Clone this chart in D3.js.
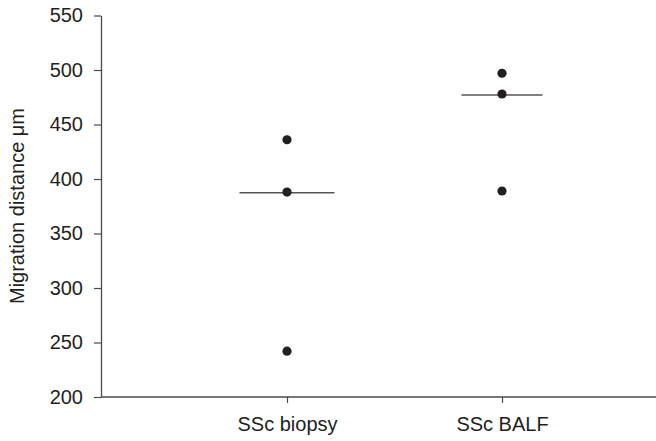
<!DOCTYPE html>
<html>
<head>
<meta charset="utf-8">
<script src="https://cdn.jsdelivr.net/npm/d3@7"></script>
<style>
  html, body { margin: 0; padding: 0; background: #fff; }
  svg { display: block; }
  text { font-family: "Liberation Sans", Arial, Helvetica, sans-serif; fill: #231f20; }
</style>
</head>
<body>
<svg id="chart" width="656" height="441"></svg>
<script>
const categories = ["SSc biopsy", "SSc BALF"];
const biopsyValues = [436, 388, 242];
const balfValues = [497, 478, 389];
const medians = [387.5, 477];
const yTicks = [200, 250, 300, 350, 400, 450, 500, 550];
const yLabel = "Migration distance μm";

const seriesValues = [biopsyValues, balfValues];
const W = 656, H = 441;
const axisX = 101, axisY = 397, topY = 15.5;
const medianHalf = [47.5, 40.5];

const svg = d3.select("#chart");

const y = d3.scaleLinear().domain([200, 550]).range([axisY, topY]);
const x = d3.scalePoint().domain(categories).range([287, 502]);

const axisColor = "#4a4a4a";

// Y axis
const yAxis = svg.append("g")
  .attr("transform", `translate(${axisX},0)`)
  .call(d3.axisLeft(y).tickValues(yTicks).tickSize(7).tickPadding(11).tickSizeOuter(0));
yAxis.select(".domain").attr("stroke", axisColor).attr("stroke-width", 1.3);
yAxis.selectAll(".tick line").attr("stroke", axisColor).attr("stroke-width", 1.2);
yAxis.selectAll(".tick text").attr("font-size", 20).attr("fill", "#231f20")
  .attr("font-family", "Liberation Sans, Arial, sans-serif");

// X axis
const xScaleFull = d3.scaleLinear().domain([0, 1]).range([axisX, W]);
svg.append("line")
  .attr("x1", axisX).attr("x2", W).attr("y1", axisY).attr("y2", axisY)
  .attr("stroke", axisColor).attr("stroke-width", 1.3);
const xAxis = svg.append("g")
  .attr("transform", `translate(0,${axisY})`)
  .call(d3.axisBottom(x).tickSize(6).tickPadding(14).tickSizeOuter(0));
xAxis.select(".domain").remove();
xAxis.selectAll(".tick line").attr("stroke", axisColor).attr("stroke-width", 1.2);
xAxis.selectAll(".tick text").attr("font-size", 20).attr("fill", "#231f20")
  .attr("font-family", "Liberation Sans, Arial, sans-serif");

// Y label
svg.append("text")
  .attr("transform", `translate(24,${206}) rotate(-90)`)
  .attr("text-anchor", "middle")
  .attr("font-size", 20)
  .text(yLabel);

// Median lines
svg.append("g").selectAll("line")
  .data(categories.map((c, i) => ({ c, m: medians[i], h: medianHalf[i] })))
  .join("line")
  .attr("x1", d => x(d.c) - d.h)
  .attr("x2", d => x(d.c) + d.h)
  .attr("y1", d => y(d.m))
  .attr("y2", d => y(d.m))
  .attr("stroke", "#555")
  .attr("stroke-width", 1.5);

// Points
const pts = [];
categories.forEach((c, i) => seriesValues[i].forEach(v => pts.push({ c, v })));
svg.append("g").selectAll("circle")
  .data(pts)
  .join("circle")
  .attr("cx", d => x(d.c))
  .attr("cy", d => y(d.v))
  .attr("r", 4.6)
  .attr("fill", "#231f20");
</script>
</body>
</html>
